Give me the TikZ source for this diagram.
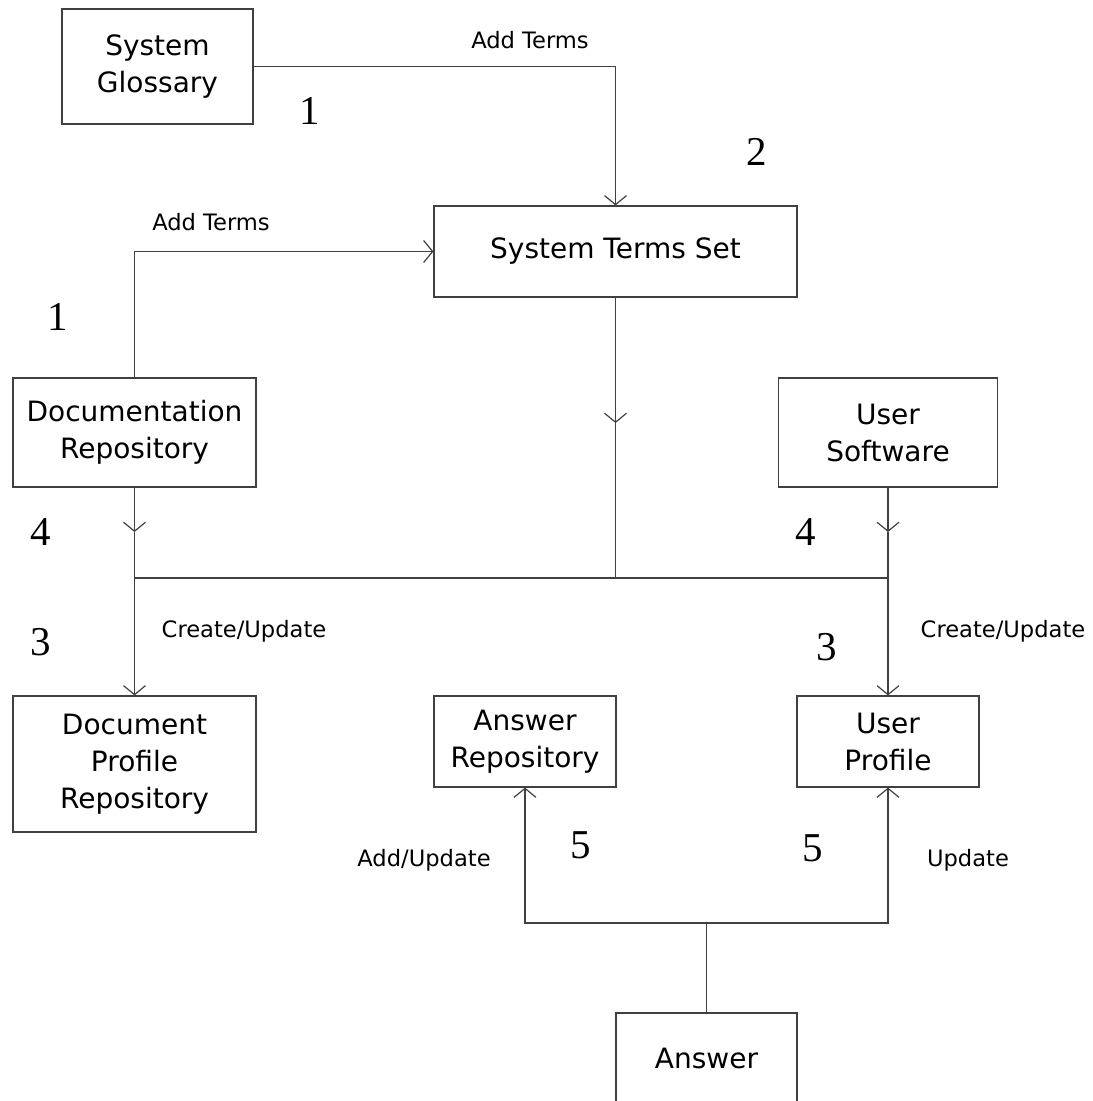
\documentclass[tikz,border=0pt]{standalone}
\usepackage{fontspec}
\setmainfont{DejaVu Sans}
\newfontfamily\numfont{Liberation Serif}
\usetikzlibrary{arrows.meta}

\begin{document}
\begin{tikzpicture}[x=0.5pt,y=-0.5pt]
\tikzstyle{box}=[rectangle,draw=black!75,line width=0.6pt,align=center,font=\fontsize{14}{18.5}\selectfont]
\tikzstyle{flow}=[draw=black!75,line width=0.6pt,>={Straight Barb[length=4.5pt,width=11pt]}]
\tikzstyle{lbl}=[font=\fontsize{11.3}{13}\selectfont]
\tikzstyle{stepno}=[font=\numfont\fontsize{20.5}{24}\selectfont]

\clip (0,0) rectangle (1092,1101);

\coordinate (gloss) at (157.5,66.5);
\coordinate (terms) at (615.5,251.5);

\coordinate (doc_repo) at (134.5,432.5);
\coordinate (user_sw) at (888,432.5);

\coordinate (doc_prof) at (134.5,764);
\coordinate (ans_repo) at (525,741.5);
\coordinate (user_prof) at (888,741.5);

\coordinate (answer) at (706.5,1058.5);

\coordinate (a_terms) at (615.5,423);
\coordinate (a_doc) at (134.5,532);
\coordinate (a_user) at (888,532);

\coordinate (j_terms) at (615.5,578);
\coordinate (j_doc) at (134.5,578);
\coordinate (j_user) at (888,578);
\coordinate (j_ans) at (706.5,923);


\node[box,minimum width=95.5pt,minimum height=57.5pt] (gloss) at (gloss) {System\\Glossary};
\node[box,minimum width=181.5pt,minimum height=45.5pt] (terms) at (terms) {System Terms Set};

\node[box,minimum width=121.5pt,minimum height=54.5pt] (doc_repo) at (doc_repo) {Documentation\\Repository};
\node[box,minimum width=109.5pt,minimum height=54.5pt] (user_sw) at (user_sw) {User\\Software};

\node[box,minimum width=121.5pt,minimum height=68pt] (doc_prof) at (doc_prof) {Document\\Profile\\Repository};
\node[box,minimum width=91pt,minimum height=45.5pt] (ans_repo) at (ans_repo) {Answer\\Repository};
\node[box,minimum width=91pt,minimum height=45.5pt] (user_prof) at (user_prof) {User\\Profile};

\node[box,minimum width=90.5pt,minimum height=45.5pt] (answer) at (answer) {Answer};


\node[lbl] (l_gloss) at (530,40) {Add Terms};
\node[lbl] (l_doc) at (211,222) {Add Terms};
\node[lbl] (l_doc_prof) at (244,631) {Create/Update};
\node[lbl] (l_user_prof) at (1003,631) {Create/Update};
\node[lbl] (l_ans_repo) at (424,860) {Add/Update};
\node[lbl] (l_ans_user) at (968,860) {Update};

\node[stepno] (s_1a) at (310,111) {1};
\node[stepno] (s_1b) at (58,317) {1};
\node[stepno] (s_2) at (757,152) {2};
\node[stepno] (s_4a) at (41,532) {4};
\node[stepno] (s_4b) at (806,532) {4};
\node[stepno] (s_3a) at (41,642) {3};
\node[stepno] (s_3b) at (827,647) {3};
\node[stepno] (s_5a) at (581,845) {5};
\node[stepno] (s_5b) at (813,848) {5};

\draw[flow,->] (gloss) -| (terms);
\draw[flow,->] (doc_repo) |- (terms);

\draw[flow,->] (terms) -- (a_terms);
\draw[flow] (a_terms) -- (j_terms);
\draw[flow,->] (doc_repo) -- (a_doc);
\draw[flow] (a_doc) -- (j_doc);
\draw[flow,->] (user_sw) -- (a_user);
\draw[flow] (a_user) -- (j_user);
\draw[flow] (j_doc) -- (j_user);

\draw[flow,->] (j_doc) -- (doc_prof);
\draw[flow,->] (j_user) -- (user_prof);

\draw[flow] (answer) -- (j_ans);
\draw[flow,->] (j_ans) -| (ans_repo);
\draw[flow,->] (j_ans) -| (user_prof);

\end{tikzpicture}
\end{document}
